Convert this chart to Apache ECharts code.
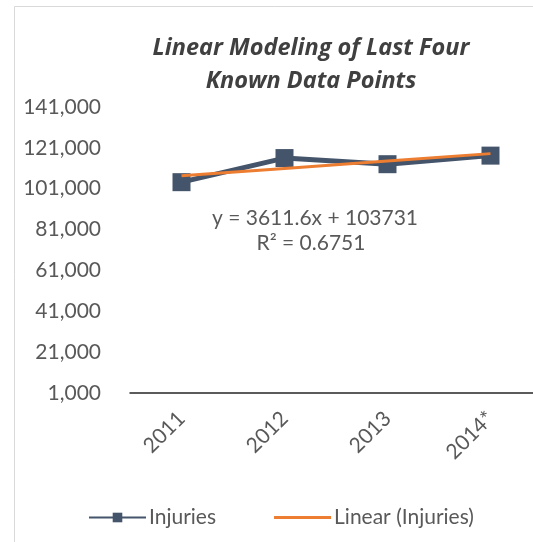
<!DOCTYPE html>
<html>
<head>
<meta charset="utf-8">
<script src="https://cdn.jsdelivr.net/npm/echarts@6/dist/echarts.min.js"></script>
<style>
  html, body { margin: 0; padding: 0; background: #fff; }
  #chart { width: 533px; height: 542px; }
</style>
</head>
<body>
<div id="chart"></div>
<script>
// values
var years = ['2011', '2012', '2013', '2014*'];
var injuries = [104200, 116000, 113000, 117200];
// trendline points from y = 3611.6x + 103731 as printed on the chart
var linear = [107343, 110954, 114566, 118177];
var yTicks = [1000, 21000, 41000, 61000, 81000, 101000, 121000, 141000];

var txt = '#595959';
var fam = 'Lato, "Open Sans", sans-serif';

var myChart = echarts.init(document.getElementById('chart'));

var option = {
    animation: false,
    backgroundColor: '#fff',
    title: {
        text: 'Linear Modeling of Last Four\nKnown Data Points',
        left: 306,
        textAlign: 'center',
        top: 27,
        textStyle: {
            fontFamily: '"Open Sans", Lato, sans-serif',
            fontSize: 23.5,
            fontWeight: 'bold',
            fontStyle: 'italic',
            color: '#404040',
            lineHeight: 33
        }
    },
    grid: {
        left: 130,
        top: 107,
        width: 412,
        height: 286,
        outerBoundsMode: 'none'
    },
    legend: {
        data: [
            { name: 'Injuries' },
            { name: 'Linear (Injuries)', icon: 'path://M0,0H56V3H0Z' }
        ],
        left: 83,
        top: 502,
        itemWidth: 57,
        itemHeight: 12,
        itemGap: 58,
        textStyle: { fontFamily: fam, fontSize: 21, color: txt, padding: [0, 0, 0, -2] }
    },
    xAxis: {
        type: 'category',
        data: years,
        axisTick: { show: false },
        axisLine: { lineStyle: { color: '#262626', width: 1.5 } },
        axisLabel: {
            rotate: 45,
            margin: 22,
            fontFamily: fam,
            fontSize: 21,
            color: txt
        }
    },
    yAxis: {
        type: 'value',
        min: yTicks[0],
        max: yTicks[yTicks.length - 1],
        interval: 20000,
        axisLine: { show: false },
        axisTick: { show: false },
        splitLine: { show: false },
        axisLabel: {
            margin: 29,
            fontFamily: fam,
            fontSize: 21,
            color: txt,
            formatter: function (v) { return v.toLocaleString('en-US'); }
        }
    },
    graphic: [
        {
            type: 'rect',
            shape: { x: 14.5, y: 6.5, width: 700, height: 700 },
            style: { fill: 'none', stroke: '#d9d9d9', lineWidth: 1 },
            silent: true
        },
        {
            type: 'text',
            x: 315, y: 218,
            style: {
                text: 'y = 3611.6x + 103731',
                fontFamily: fam, fontSize: 21, fill: txt,
                align: 'center', verticalAlign: 'middle'
            }
        },
        {
            type: 'text',
            x: 311, y: 243,
            style: {
                text: 'R² = 0.6751',
                fontFamily: fam, fontSize: 21, fill: txt,
                align: 'center', verticalAlign: 'middle'
            }
        }
    ],
    series: [
        {
            name: 'Injuries',
            type: 'line',
            data: injuries,
            symbol: 'rect',
            symbolSize: 18,
            z: 2,
            itemStyle: { color: '#44546a' },
            lineStyle: { color: '#44546a', width: 5 }
        },
        {
            name: 'Linear (Injuries)',
            type: 'line',
            data: linear,
            symbol: 'none',
            z: 3,
            itemStyle: { color: '#ed7d31' },
            lineStyle: { color: '#ed7d31', width: 3 }
        }
    ]
};

myChart.setOption(option);
</script>
</body>
</html>
